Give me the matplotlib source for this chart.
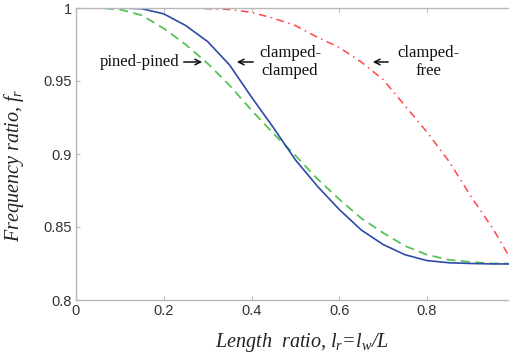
import matplotlib
matplotlib.use("Agg")
import matplotlib.pyplot as plt

plt.rcParams["mathtext.fontset"] = "custom"
plt.rcParams["mathtext.it"] = "Liberation Serif:italic"
plt.rcParams["mathtext.rm"] = "Liberation Serif"

length_ratio = [0.0, 0.05, 0.10, 0.15, 0.20, 0.25, 0.30, 0.35, 0.40, 0.45, 0.50,
                0.55, 0.60, 0.65, 0.70, 0.75, 0.80, 0.85, 0.90, 0.95, 0.985]
clamped_clamped = [1.0, 1.0, 1.0, 0.9995, 0.996, 0.988, 0.977, 0.961, 0.939, 0.918, 0.896,
                   0.878, 0.862, 0.848, 0.838, 0.831, 0.827, 0.8255, 0.825, 0.8247, 0.8247]
pined_pined = [1.0, 1.0, 0.999, 0.995, 0.986, 0.975, 0.962, 0.947, 0.930, 0.914, 0.899,
               0.883, 0.869, 0.856, 0.846, 0.837, 0.831, 0.8275, 0.826, 0.825, 0.825]
clamped_free = [1.0, 1.0, 1.0, 1.0, 1.0, 1.0, 0.9995, 0.999, 0.997, 0.993, 0.988,
                0.980, 0.973, 0.963, 0.951, 0.933, 0.915, 0.895, 0.871, 0.849, 0.831]

x_ticks = [0, 0.2, 0.4, 0.6, 0.8]
x_tick_labels = ["0", "0.2", "0.4", "0.6", "0.8"]
y_ticks = [0.8, 0.85, 0.9, 0.95, 1.0]
y_tick_labels = ["0.8", "0.85", "0.9", "0.95", "1"]

W, H = 509, 358
fig = plt.figure(figsize=(W / 100, H / 100), dpi=100)
ax = fig.add_axes([76 / W, 58 / H, 438.75 / W, 292 / H])

ax.plot(length_ratio, clamped_free, color="#ff4545", lw=1.1, dashes=(5, 3, 1, 3))
ax.plot(length_ratio, pined_pined, color="#55c455", lw=1.3, dashes=(5, 3))
ax.plot(length_ratio, clamped_clamped, color="#2e4aa8", lw=1.2)

ax.set_xlim(0, 1)
ax.set_ylim(0.8, 1.0)
ax.set_xticks(x_ticks)
ax.set_xticklabels(x_tick_labels)
ax.set_yticks(y_ticks)
ax.set_yticklabels(y_tick_labels)

for s in ax.spines.values():
    s.set_color("#b8b8b8")
    s.set_linewidth(1.0)
ax.tick_params(direction="in", length=3, width=0.8, color="#b8b8b8",
               top=True, right=True, labelsize=10.5, labelcolor="#333333", pad=3)
for lab in ax.get_xticklabels() + ax.get_yticklabels():
    lab.set_family("Liberation Sans")

ax.set_xlabel(r"Length  ratio, $l_r$=$l_w$/$L$", fontsize=14.5, family="Liberation Serif",
              style="italic", color="#222222")
ax.xaxis.set_label_coords((302 - 76) / 438.75, (300 - 343) / 292)
ax.xaxis.label.set_va("center")
ax.set_ylabel(r"Frequency ratio, $f_r$", fontsize=14.5, family="Liberation Serif",
              style="italic", color="#222222")
ax.yaxis.set_label_coords((14 - 76) / 438.75, (300 - 165) / 292)
ax.yaxis.label.set_va("center")

tfont = dict(fontsize=12, family="Liberation Serif", color="#111111")
yrow = 1 - (62 - 8) / 1460
ytxt = 1 - (62 - 8) / 1460

ax.annotate("", xy=((205 - 76) / 438.75, yrow), xytext=((181 - 76) / 438.75, yrow),
            arrowprops=dict(arrowstyle="->", color="#111111", lw=1.1))
ax.text((179 - 76) / 438.75, ytxt, "pined-pined", ha="right", va="center", **tfont)

ax.annotate("", xy=((234 - 76) / 438.75, yrow), xytext=((256 - 76) / 438.75, yrow),
            arrowprops=dict(arrowstyle="->", color="#111111", lw=1.1))
ax.text((290 - 76) / 438.75, ytxt, "clamped-\nclamped", ha="center", va="center",
        linespacing=1.1, **tfont)

ax.annotate("", xy=((370 - 76) / 438.75, yrow), xytext=((391 - 76) / 438.75, yrow),
            arrowprops=dict(arrowstyle="->", color="#111111", lw=1.1))
ax.text((428 - 76) / 438.75, ytxt, "clamped-\nfree", ha="center", va="center",
        linespacing=1.1, **tfont)

fig.savefig("out.png", dpi=100)
